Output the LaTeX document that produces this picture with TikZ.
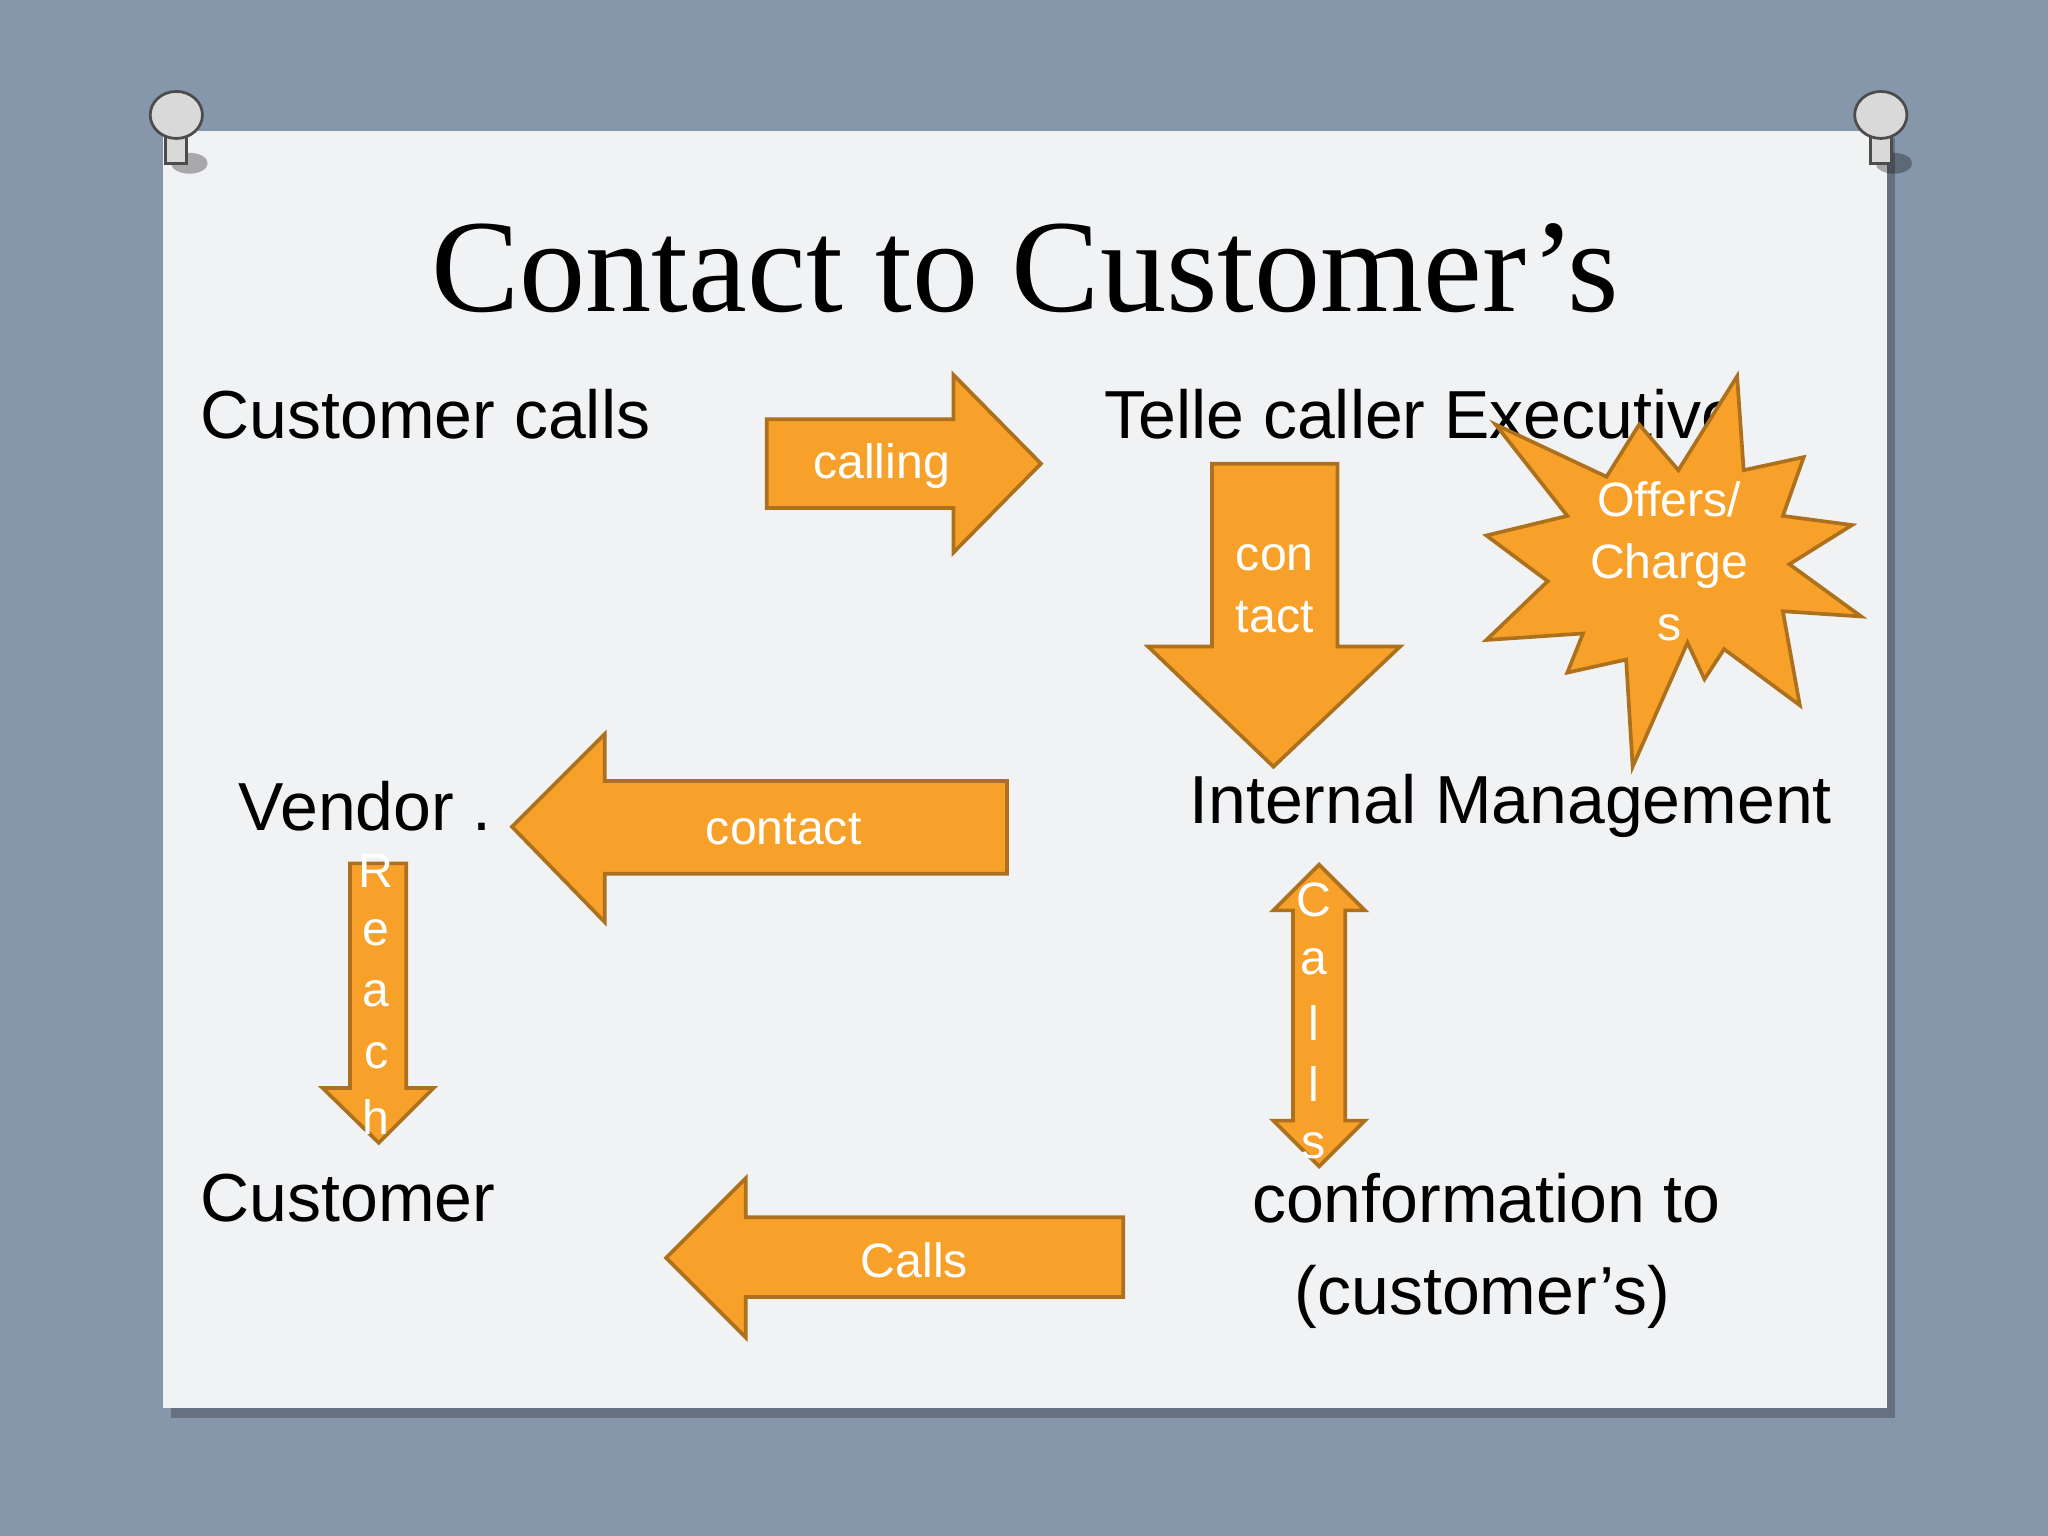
\documentclass[tikz,border=0pt]{standalone}
\usepackage{fontspec}
\setmainfont{Liberation Sans}
\newfontfamily\titlefont{Liberation Serif}
\begin{document}
\begin{tikzpicture}[x=0.01cm,y=-0.01cm,
  lbl/.style={text=white,font=\fontsize{10.5}{12}\selectfont,inner sep=0pt},
  txt/.style={font=\fontsize{14.8}{17}\selectfont,inner sep=0pt,anchor=west},
  pin/.style={fill=gray!30,draw=gray!60!black,line width=0.6pt}]
\definecolor{bg}{HTML}{8797AB}
\definecolor{paper}{HTML}{F1F2F4}
\definecolor{org}{HTML}{F7A12A}
\tikzset{arr/.style={fill=org,draw=org!70!black,line width=0.8pt}}
\fill[bg] (0,0) rectangle (1568,1176);
\useasboundingbox (0,0) rectangle (1568,1176);
\fill[black,opacity=0.25] (131,106) rectangle (1451,1086);
\fill[paper] (125,100) rectangle (1445,1078);
% pins
\foreach \px in {135,1440}{
  \fill[black,opacity=0.3] (\px+10,125) ellipse (14 and 8);
  \draw[pin] (\px-8,95) rectangle (\px+8,125);
  \draw[pin] (\px,88) ellipse (20 and 18);
}
\node[font=\titlefont\fontsize{28.8}{34}\selectfont,inner sep=0pt] (title) at (785,205) {Contact to Customer’s};
\node[txt] (cc) at (153,317) {Customer calls};
\node[txt] (tce) at (845,317) {Telle caller Executive};
\node[txt] (im) at (910,617) {Internal Management};
\node[txt] (vd) at (182,617) {Vendor .};
\node[txt] (cu) at (153,917) {Customer};
\node[font=\fontsize{14.8}{17}\selectfont,inner sep=0pt] (cf1) at (1138,917) {conformation to};
\node[font=\fontsize{14.8}{17}\selectfont,inner sep=0pt] (cf2) at (1135,993) {(customer’s)};
% calling
\draw[arr] (587,321)--(730,321)--(730,287)--(797,355)--(730,423)--(730,389)--(587,389)--cycle;
\node[lbl] (l1) at (675,357) {calling};
% con tact
\draw[arr] (928,355)--(1024,355)--(1024,495)--(1072,495)--(975,587)--(879,495)--(928,495)--cycle;
\node[lbl,align=center,font=\fontsize{10.5}{13.5}\selectfont] (l2) at (976,451) {con\\tact};
% starburst
\draw[arr] (1330,288)--(1335,360)--(1381,350)--(1365,395)--(1418,402)--(1370,432)--(1425,472)--(1365,468)--(1378,540)--(1320,497)--(1305,520)--(1292,492)--(1250,587)--(1245,505)--(1200,515)--(1212,485)--(1138,490)--(1185,445)--(1138,410)--(1200,395)--(1145,325)--(1230,365)--(1255,325)--(1285,360)--cycle;
\node[lbl,align=center,font=\fontsize{10.5}{13.5}\selectfont] (l3) at (1278,430) {Offers/\\Charge\\s};
% contact
\draw[arr] (392,633)--(463,562)--(463,598)--(771,598)--(771,669)--(463,669)--(463,706)--cycle;
\node[lbl] (l4) at (600,635) {contact};
% Reach
\draw[arr] (268,661)--(311,661)--(311,833)--(332,833)--(290,875)--(247,833)--(268,833)--cycle;
\foreach \c [count=\i] in {R,e,a,c,h}{
  \node[lbl] (r\i) at (288,620+47*\i) {\c};}
% Calls double arrow
\draw[arr] (1010,662)--(1045,697)--(1030,697)--(1030,858)--(1045,858)--(1010,893)--(975,858)--(990,858)--(990,697)--(975,697)--cycle;
\foreach \c [count=\i] in {C,a,l,l,s}{
  \node[lbl] (c\i) at (1006,642+47*\i) {\c};}
% Calls
\draw[arr] (510,963)--(571,902)--(571,932)--(860,932)--(860,993)--(571,993)--(571,1024)--cycle;
\node[lbl] (l5) at (700,965) {Calls};
\end{tikzpicture}
\end{document}
